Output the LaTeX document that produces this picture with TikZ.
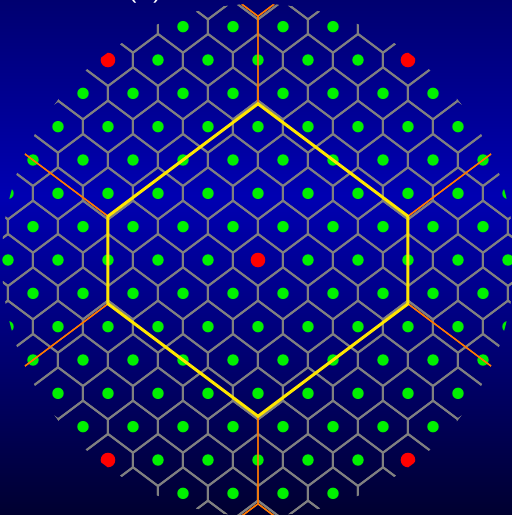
\documentclass[tikz,border=0pt]{standalone}
\usepackage{tikz}
\usetikzlibrary{calc}
\definecolor{bgtop}{RGB}{0,0,112}
\definecolor{bgmid}{RGB}{0,0,178}
\definecolor{bgbot}{RGB}{0,0,48}
\definecolor{cellgray}{RGB}{128,128,128}
\definecolor{sitegreen}{RGB}{0,240,0}
\definecolor{superred}{RGB}{255,0,0}
\definecolor{zone}{RGB}{255,230,0}
\definecolor{outer}{RGB}{255,120,0}
\pgfdeclareverticalshading{bgfade}{100bp}{color(0bp)=(bgbot); color(25bp)=(bgbot); color(56bp)=(bgmid); color(75bp)=(bgtop); color(100bp)=(bgtop)}

\begin{document}
\begin{tikzpicture}[
    x=1pt, y=1pt,
    cell/.style={draw=cellgray, line width=2pt},
    site/.style={fill=sitegreen},
    super/.style={fill=superred},
    bzone/.style={draw=zone, line width=3pt},
    nzone/.style={draw=outer, line width=1.4pt},
    ttl/.style={text=white, font=\sffamily\fontsize{31}{36}\selectfont, anchor=base},
  ]
  \useasboundingbox (-258,-255) rectangle (254,260);
  \shade[shading=bgfade] (-258,-255) rectangle (254,260);
  \node[ttl] (tag) at (-113,264.5) {(a)};
  \begin{scope}
    \clip (0,0) circle (256);
    % ------------------------------------------------------------------ cells of the lattice
    \foreach \j in {-8,...,8} {
      \foreach \i in {-10,...,10} {
        \pgfmathsetmacro\cx{50*\i+25*\j}
        \pgfmathsetmacro\cy{100/3*\j}
        \draw[cell] (\cx,\cy) +(0,26.04) -- +(25,7.29) -- +(25,-7.29) -- +(0,-26.04)
          -- +(-25,-7.29) -- +(-25,7.29) -- cycle;
      }
    }
    % ------------------------------------------------------------------ lattice sites
    \foreach \j in {-8,...,8} {
      \foreach \i in {-10,...,10} {
        \pgfmathsetmacro\cx{50*\i+25*\j}
        \pgfmathsetmacro\cy{100/3*\j}
        \pgfmathtruncatemacro\isred{(mod(\i,6)==0) && (mod(\j,6)==0)}
        \ifnum\isred=1
          \fill[super] (\cx,\cy) circle (7.3);
        \else
          \fill[site] (\cx,\cy) circle (5.7);
        \fi
      }
    }
    % ------------------------------------------------------------------ neighbouring zones
    \foreach \m in {-2,...,2} {
      \foreach \n in {-2,...,2} {
        \draw[nzone] (300*\m+150*\n,200*\n) +(0,156.25) -- +(150,43.75) -- +(150,-43.75)
          -- +(0,-156.25) -- +(-150,-43.75) -- +(-150,43.75) -- cycle;
      }
    }
    % ------------------------------------------------------------------ central zone
    \draw[bzone] (0,156.25) -- (150,43.75) -- (150,-43.75) -- (0,-156.25)
      -- (-150,-43.75) -- (-150,43.75) -- cycle;
  \end{scope}
\end{tikzpicture}
\end{document}
